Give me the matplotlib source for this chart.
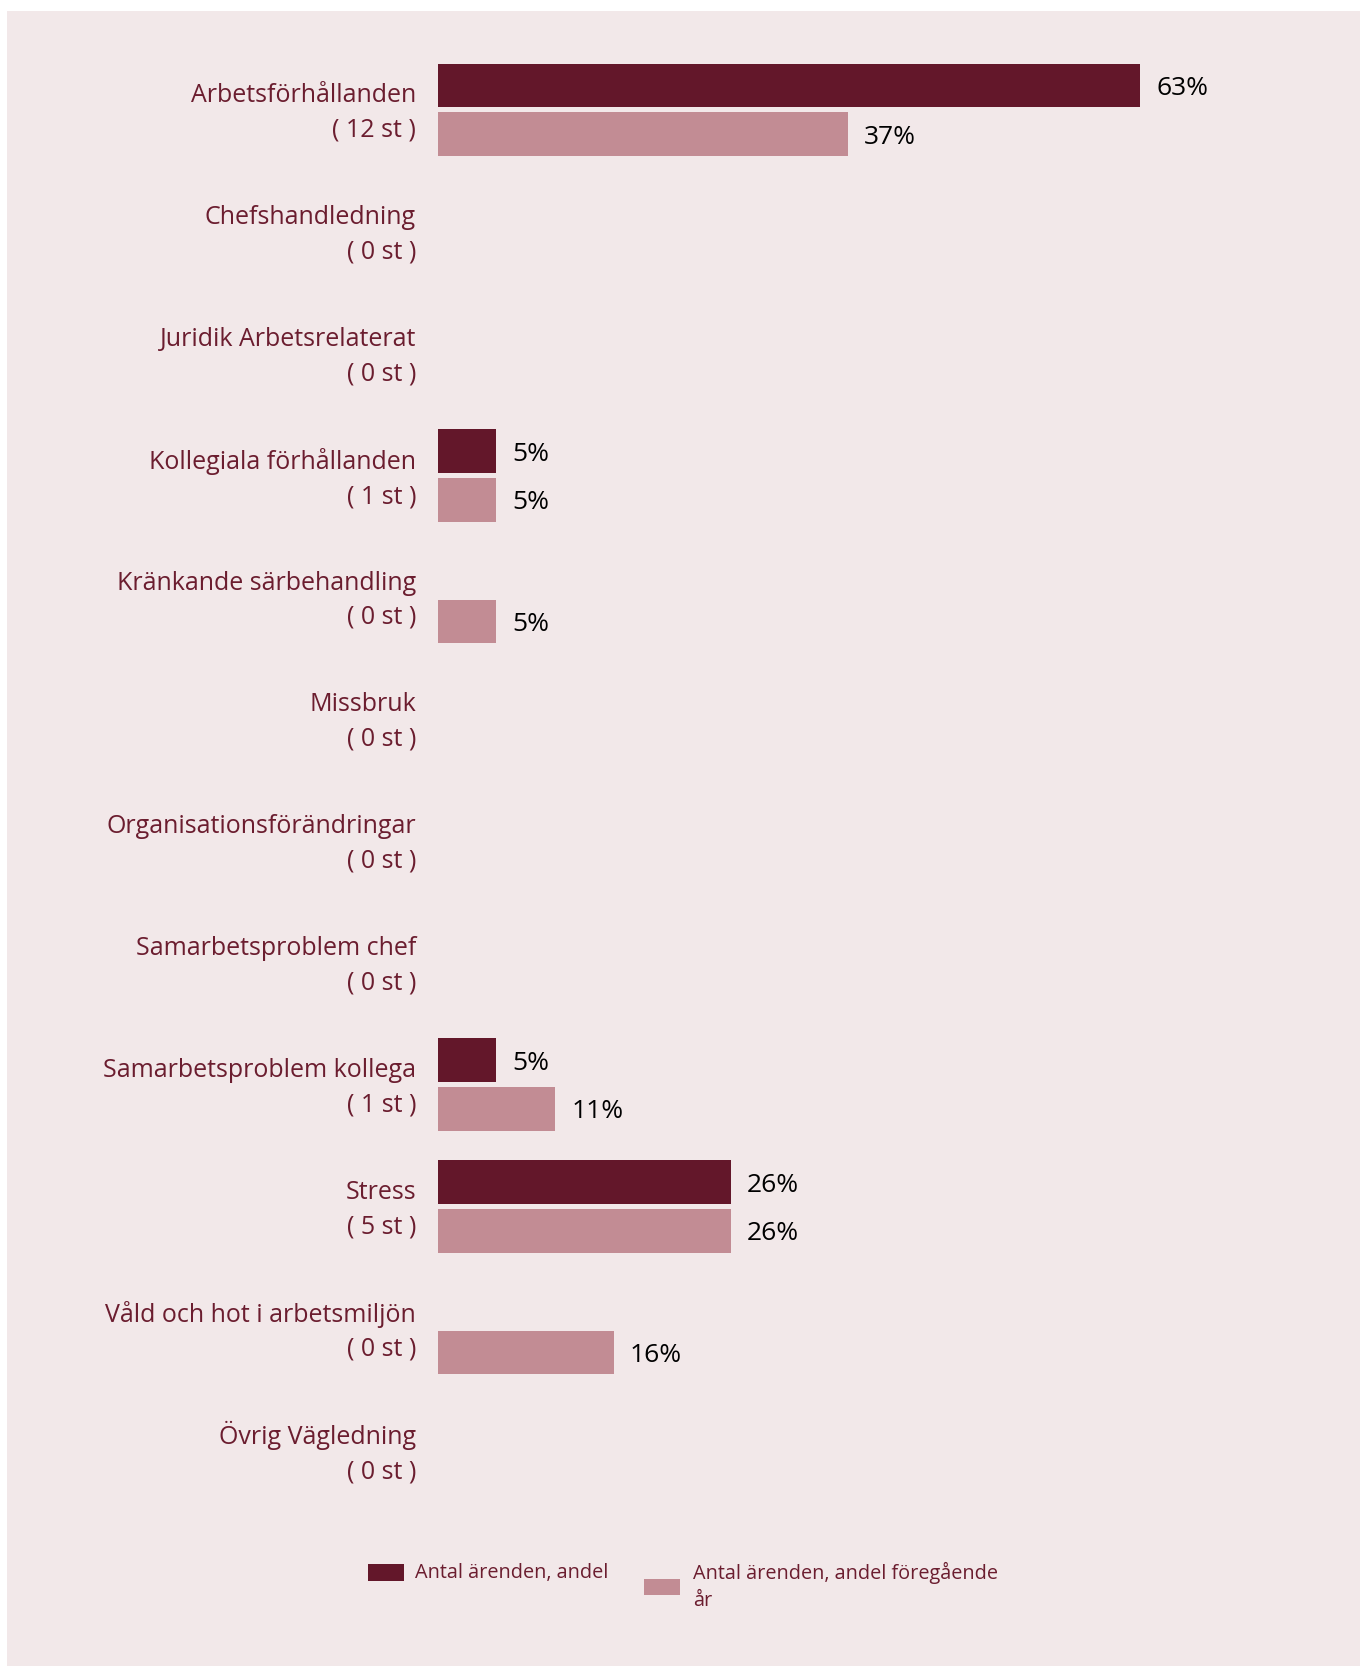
import matplotlib
matplotlib.use("Agg")
import matplotlib.pyplot as plt
from matplotlib.patches import Rectangle

categories = ["Arbetsförhållanden", "Chefshandledning", "Juridik Arbetsrelaterat",
              "Kollegiala förhållanden", "Kränkande särbehandling", "Missbruk",
              "Organisationsförändringar", "Samarbetsproblem chef",
              "Samarbetsproblem kollega", "Stress", "Våld och hot i arbetsmiljön",
              "Övrig Vägledning"]
counts = [12, 0, 0, 1, 0, 0, 0, 0, 1, 5, 0, 0]
current_pct = [63.16, 0, 0, 5.26, 0, 0, 0, 0, 5.26, 26.32, 0, 0]
previous_pct = [36.84, 0, 0, 5.26, 5.26, 0, 0, 0, 10.53, 26.32, 15.79, 0]
legend_labels = ["Antal ärenden, andel", "Antal ärenden, andel föregående\når"]

DARK = "#63172A"
LIGHT = "#C28C94"
BG = "#F2E8E9"
LABEL_C = "#6B1D2F"

plt.rcParams['font.family'] = ['Open Sans', 'DejaVu Sans']

W, H = 1360, 1666
fig = plt.figure(figsize=(W / 100, H / 100), dpi=100, facecolor="white")

# background panel
fig.patches.append(Rectangle((7 / W, 0), 1 - 7 / W, 1 - 11 / H, transform=fig.transFigure,
                             facecolor=BG, edgecolor="none", zorder=-10))

left_px, right_px = 438, 1300
top_px, bot_px = 49, 1511
ax = fig.add_axes([left_px / W, 1 - bot_px / H, (right_px - left_px) / W, (bot_px - top_px) / H])
ax.set_zorder(5)
ax.set_facecolor("none")
px_per_pct = 11.12
ax.set_xlim(0, (right_px - left_px) / px_per_pct)
n = len(categories)
ax.set_ylim(n - 0.5, -0.5)

bh = 0.358
off = 0.2
ys = list(range(n))
ax.barh([y - off for y in ys], current_pct, height=bh, color=DARK, linewidth=0)
ax.barh([y + off for y in ys], previous_pct, height=bh, color=LIGHT, linewidth=0)

for y, v in zip(ys, current_pct):
    if v > 0:
        ax.annotate(f"{round(v)}%", (v, y - off), xytext=(16, -3), textcoords="offset pixels",
                    va="center", ha="left", fontsize=19, color="black")
for y, v in zip(ys, previous_pct):
    if v > 0:
        ax.annotate(f"{round(v)}%", (v, y + off), xytext=(16, -3), textcoords="offset pixels",
                    va="center", ha="left", fontsize=19, color="black")

ax.set_yticks([])
ax.set_xticks([])
for y, c, k in zip(ys, categories, counts):
    ax.annotate(f"{c}\n( {k} st )", (0, y), xycoords=("axes fraction", "data"),
                xytext=(-22, -3), textcoords="offset pixels", ha="right", va="center",
                multialignment="right", fontsize=18, color=LABEL_C, linespacing=1.5)
for s in ax.spines.values():
    s.set_visible(False)

# legend
def fx(px):
    return px / W

def fy(py):
    return 1 - py / H

fig.patches.append(Rectangle((fx(368), fy(1581)), 36 / W, 17 / H, transform=fig.transFigure,
                             facecolor=DARK, edgecolor="none"))
fig.text(fx(415), fy(1573), legend_labels[0], fontsize=14.3, color=LABEL_C, va="center", ha="left")
fig.patches.append(Rectangle((fx(644), fy(1595)), 36 / W, 16 / H, transform=fig.transFigure,
                             facecolor=LIGHT, edgecolor="none"))
fig.text(fx(693), fy(1573), legend_labels[1].split("\n")[0], fontsize=14.3, color=LABEL_C, va="center", ha="left")
fig.text(fx(693), fy(1601), legend_labels[1].split("\n")[1], fontsize=14.3, color=LABEL_C, va="center", ha="left")

fig.savefig("out.png", dpi=100, facecolor="white")
